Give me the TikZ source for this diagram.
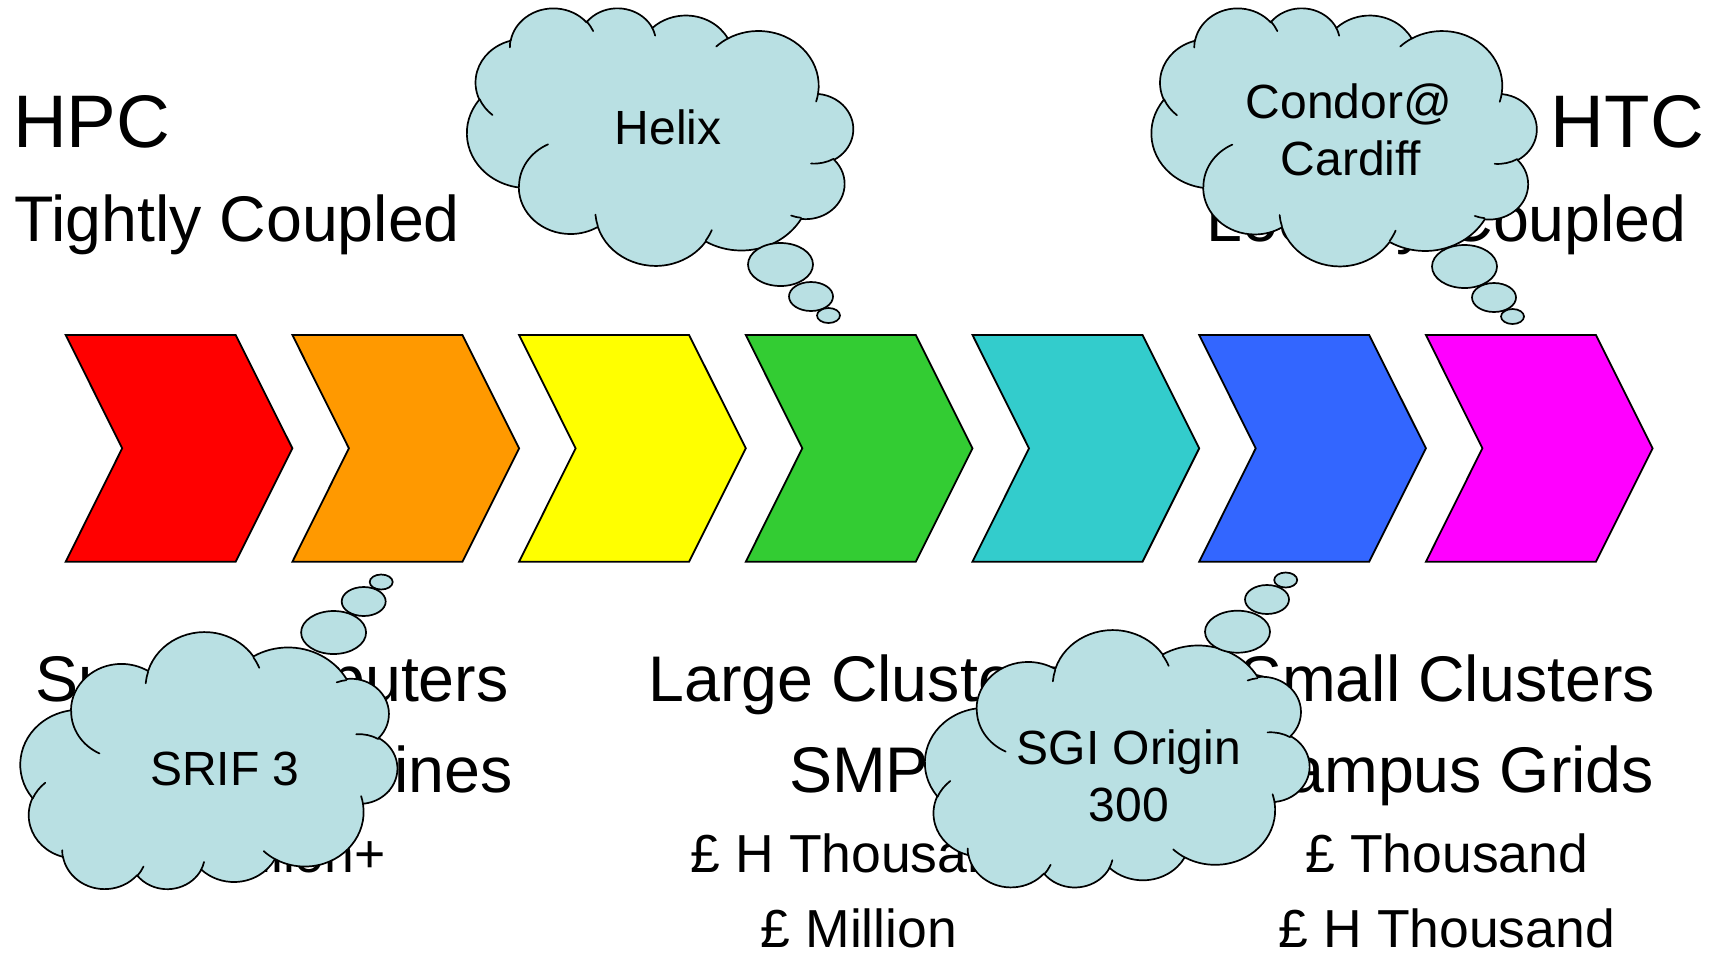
\documentclass[tikz,border=0pt]{standalone}
\usepackage{fontspec}
\setmainfont{Liberation Sans}
\definecolor{cloudblue}{HTML}{B9E0E3}
\definecolor{cRed}{HTML}{FF0000}
\definecolor{cOrange}{HTML}{FF9900}
\definecolor{cYellow}{HTML}{FFFF00}
\definecolor{cGreen}{HTML}{33CC33}
\definecolor{cTeal}{HTML}{33CCCC}
\definecolor{cBlue}{HTML}{3366FF}
\definecolor{cMagenta}{HTML}{FF00FF}
\newcommand\ppcloud{%
\filldraw[cloudsty] (39.00,143.70)
 arc[start angle=172.25, end angle=300.36, x radius=67.53, y radius=91.90]
 arc[start angle=-152.02, end angle=-45.46, x radius=53.33, y radius=72.67]
 arc[start angle=-153.49, end angle=-37.32, x radius=43.65, y radius=59.45]
 arc[start angle=-139.72, end angle=-10.22, x radius=48.57, y radius=65.95]
 arc[start angle=-74.77, end angle=23.21, x radius=53.33, y radius=72.73]
 arc[start angle=-37.52, end angle=81.86, x radius=67.75, y radius=92.20]
 arc[start angle=0.46, end angle=121.98, x radius=57.85, y radius=78.67]
 arc[start angle=16.84, end angle=146.22, x radius=67.52, y radius=92.15]
 arc[start angle=58.98, end angle=150.19, x radius=77.20, y radius=105.43]
 arc[start angle=83.31, end angle=223.10, x radius=43.60, y radius=59.18]
 arc[start angle=120.36, end angle=264.11, x radius=43.45, y radius=59.45]
 -- cycle;
\draw[cloudline] (46.93,261.77) arc[start angle=85.54, end angle=120.36, x radius=43.45, y radius=59.45];
\draw[cloudline] (69.28,348.99) arc[start angle=68.25, end angle=83.31, x radius=43.60, y radius=59.18];
\draw[cloudline] (164.78,390.90) arc[start angle=146.22, end angle=158.48, x radius=67.52, y radius=92.15];
\draw[cloudline] (288.27,347.51) arc[start angle=4.74, end angle=16.84, x radius=67.52, y radius=92.15];
\draw[cloudline] (341.29,229.54) arc[start angle=-64.02, end angle=0.46, x radius=57.85, y radius=78.67];
\draw[cloudline] (417.98,153.54) arc[start angle=23.21, end angle=49.64, x radius=53.33, y radius=72.73];
\draw[cloudline] (383.24,54.26) arc[start angle=-10.21, end angle=0.82, x radius=48.57, y radius=65.95];
\draw[cloudline] (290.78,39.52) arc[start angle=-156.29, end angle=-139.72, x radius=48.57, y radius=65.95];
\draw[cloudline] (221.41,47.20) arc[start angle=-167.72, end angle=-153.49, x radius=43.65, y radius=59.45];
\draw[cloudline] (140.00,51.92) arc[start angle=-59.64, end angle=-45.74, x radius=67.53, y radius=91.90];
\draw[cloudline] (41.27,157.89) arc[start angle=163.20, end angle=172.25, x radius=67.53, y radius=91.90];
}
\begin{document}
\begin{tikzpicture}[x=1pt,y=-1pt,
  cloudsty/.style={fill=cloudblue, draw=black, line width=1.7pt, line join=round},
  cloudline/.style={draw=black, line width=1.7pt, line cap=round},
  bubble/.style={fill=cloudblue, draw=black, line width=1.7pt},
  chev/.style={draw=black, line width=1.8pt, line join=miter},
  bigtxt/.style={font=\fontsize{64.5}{70}\selectfont, inner sep=0pt, anchor=base},
  hugetxt/.style={font=\fontsize{74.5}{80}\selectfont, inner sep=0pt},
  pricetxt/.style={font=\fontsize{53.5}{60}\selectfont, inner sep=0pt, anchor=base},
  cloudtxt/.style={font=\fontsize{48}{52}\selectfont, inner sep=0pt, anchor=base}]
\useasboundingbox (0,0) rectangle (1715,954);
\fill[white] (0,0) rectangle (1715,954);

% top labels
\node[hugetxt, anchor=base west] (hpc) at (13,147.5) {HPC};
\node[bigtxt, anchor=base west] (tight) at (14,241) {Tightly Coupled};
\node[hugetxt, anchor=base east] (htc) at (1704,147.5) {HTC};
\node[bigtxt, anchor=base east] (loose) at (1687,241) {Loosely Coupled};

% bottom columns
\node[bigtxt] (l1) at (272,701) {Supercomputers};
\node[bigtxt] (l2) at (274,792.5) {Vector Machines};
\node[pricetxt] (l3) at (272,872) {£ Million+};
\node[bigtxt] (m1) at (858,701) {Large Clusters};
\node[bigtxt] (m2) at (859,792.5) {SMP};
\node[pricetxt] (m3) at (859,872) {£ H Thousand};
\node[pricetxt] (m4) at (859,947) {£ Million};
\node[bigtxt] (r1) at (1447,701) {Small Clusters};
\node[bigtxt] (r2) at (1448,792.5) {Campus Grids};
\node[pricetxt] (r3) at (1447,872) {£ Thousand};
\node[pricetxt] (r4) at (1447,947) {£ H Thousand};

% chevrons
\foreach \i/\c in {0/cRed,1/cOrange,2/cYellow,3/cGreen,4/cTeal,5/cBlue,6/cMagenta}{
  \filldraw[chev, fill=\c] ({65.7+226.7*\i},335) -- ++(170,0) -- ++(56.7,113.3)
     -- ++(-56.7,113.4) -- ++(-170,0) -- ++(56.5,-113.4) -- cycle;
}

% Helix cloud
\begin{scope}[shift={(853,7.5)}, x=-0.89352pt, y=-0.59606pt]
\ppcloud
\end{scope}
\draw[bubble] (780.5,264.5) ellipse[x radius=32.5, y radius=21.5];
\draw[bubble] (811,296.5) ellipse[x radius=22, y radius=14.5];
\draw[bubble] (828.5,315.5) ellipse[x radius=11.5, y radius=7.5];
\node[cloudtxt] (helix) at (668,144) {Helix};

% Condor cloud
\begin{scope}[shift={(1536.5,7.5)}, x=-0.89120pt, y=-0.59722pt]
\ppcloud
\end{scope}
\draw[bubble] (1464.5,266.5) ellipse[x radius=32.5, y radius=21.5];
\draw[bubble] (1494,297.5) ellipse[x radius=22, y radius=14.5];
\draw[bubble] (1512.5,316.5) ellipse[x radius=11.5, y radius=7.5];
\node[cloudtxt] (condorA) at (1349,118.5) {Condor@};
\node[cloudtxt] (condorB) at (1351,175) {Cardiff};

% SRIF cloud
\begin{scope}[shift={(397.1,890)}, x=-0.87199pt, y=0.59491pt]
\ppcloud
\end{scope}
\draw[bubble] (333.6,632.5) ellipse[x radius=32.5, y radius=21.5];
\draw[bubble] (363.7,601.5) ellipse[x radius=22, y radius=14.5];
\draw[bubble] (381.2,582) ellipse[x radius=11.5, y radius=7.5];
\node[cloudtxt] (srif) at (225,785) {SRIF 3};

% SGI cloud
\begin{scope}[shift={(1309.3,888.3)}, x=-0.88958pt, y=0.59560pt]
\ppcloud
\end{scope}
\draw[bubble] (1237.5,631.7) ellipse[x radius=32.5, y radius=21];
\draw[bubble] (1267,599.5) ellipse[x radius=22, y radius=14.5];
\draw[bubble] (1285.7,580) ellipse[x radius=11.5, y radius=7.5];
\node[cloudtxt] (sgiA) at (1129,764) {SGI Origin};
\node[cloudtxt] (sgiB) at (1129,821.7) {300};
\end{tikzpicture}
\end{document}
